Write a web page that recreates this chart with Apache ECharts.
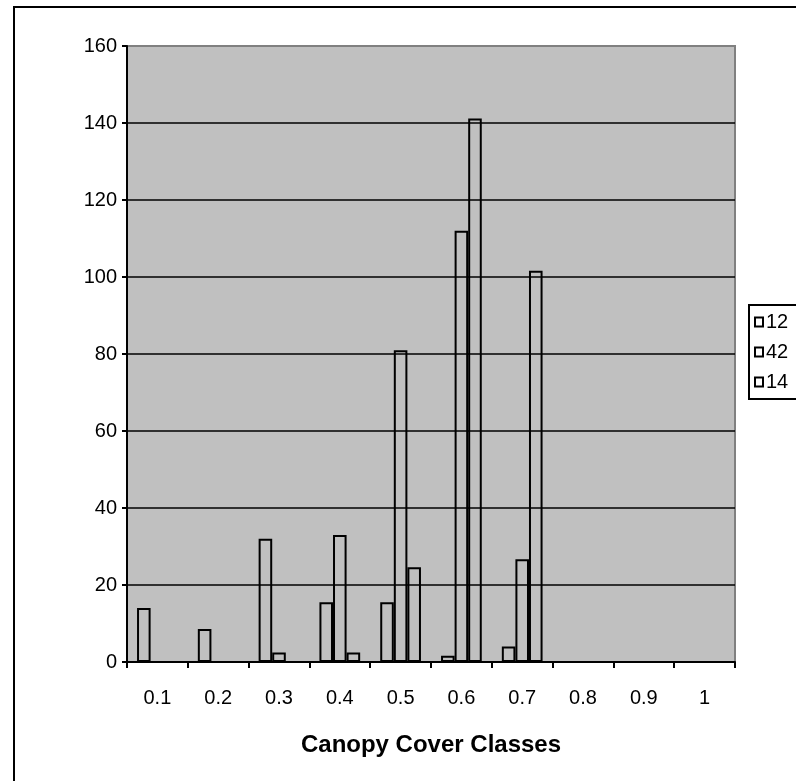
<!DOCTYPE html>
<html>
<head>
<meta charset="utf-8">
<style>
  html, body { margin: 0; padding: 0; background: #ffffff; }
  #chart { width: 796px; height: 781px; }
</style>
<script src="https://cdn.jsdelivr.net/npm/echarts@6/dist/echarts.min.js"></script>
</head>
<body>
<div id="chart"></div>
<script>
// Canopy cover classes on the category axis
const categories = ['0.1', '0.2', '0.3', '0.4', '0.5', '0.6', '0.7', '0.8', '0.9', '1'];

// One series per plot group
const seriesNames = ['12', '42', '14'];
const values12 = [14, 8.6, 32, 15.5, 15.5, 1.6, 4, 0, 0, 0];
const values42 = [0, 0, 2.5, 33, 81, 112, 26.7, 0, 0, 0];
const values14 = [0, 0, 0, 2.5, 24.6, 141.2, 101.6, 0, 0, 0];

// Y axis ticks
const yMin = 0;
const yMax = 160;
const yStep = 20;

const FONT = '"Liberation Sans", Arial, sans-serif';

const chart = echarts.init(document.getElementById('chart'), null, { renderer: 'canvas' });

const barStyle = {
  color: 'rgba(0,0,0,0)',
  borderColor: '#000000',
  borderWidth: 2
};

function makeSeries(name, data) {
  return {
    name: name,
    type: 'bar',
    data: data,
    barGap: '0%',
    barCategoryGap: '33%',
    itemStyle: barStyle,
    emphasis: { disabled: true },
    z: 3
  };
}

// grey frame on top/right, black gridlines below the top edge
const nLines = (yMax - yMin) / yStep + 1;
const splitColors = [];
for (let i = 0; i < nLines; i++) splitColors.push(i === nLines - 1 ? '#808080' : '#000000');

chart.setOption({
  animation: false,
  textStyle: { fontFamily: FONT },
  graphic: [
    {
      type: 'rect',
      shape: { x: 14, y: 7, width: 800, height: 800 },
      style: { fill: 'none', stroke: '#000000', lineWidth: 2 },
      z: 0
    }
  ],
  grid: {
    left: 127,
    right: 61,
    top: 46,
    bottom: 119,
    show: true,
    backgroundColor: '#C0C0C0',
    borderColor: '#808080',
    borderWidth: 2
  },
  legend: {
    orient: 'vertical',
    left: 749,
    top: 305,
    data: seriesNames,
    icon: 'rect',
    itemWidth: 8,
    itemHeight: 9,
    itemGap: 10,
    padding: [7, 12, 7, 5],
    borderColor: '#000000',
    borderWidth: 2,
    backgroundColor: '#ffffff',
    itemStyle: { color: 'rgba(0,0,0,0)', borderColor: '#000000', borderWidth: 2 },
    textStyle: { fontFamily: FONT, fontSize: 20, color: '#000000', lineHeight: 20, padding: [0, 0, 0, -2] },
    selectedMode: false
  },
  xAxis: {
    type: 'category',
    data: categories,
    boundaryGap: true,
    name: 'Canopy Cover Classes',
    nameLocation: 'middle',
    nameGap: 71,
    nameTextStyle: { fontFamily: FONT, fontSize: 24, fontWeight: 'bold', color: '#000000' },
    axisLine: { show: true, lineStyle: { color: '#000000', width: 2 } },
    axisTick: { show: true, alignWithLabel: false, length: 6, lineStyle: { color: '#000000', width: 2 } },
    axisLabel: { fontFamily: FONT, fontSize: 20, color: '#000000', margin: 26 },
    splitLine: { show: false }
  },
  yAxis: {
    type: 'value',
    min: yMin,
    max: yMax,
    interval: yStep,
    axisLine: { show: true, lineStyle: { color: '#000000', width: 2 } },
    axisTick: { show: true, length: 5, lineStyle: { color: '#000000', width: 2 } },
    axisLabel: { fontFamily: FONT, fontSize: 20, color: '#000000', margin: 10 },
    splitLine: { show: true, lineStyle: { color: splitColors, width: 1.5 } }
  },
  series: [
    makeSeries(seriesNames[0], values12),
    makeSeries(seriesNames[1], values42),
    makeSeries(seriesNames[2], values14)
  ]
});
</script>
</body>
</html>
